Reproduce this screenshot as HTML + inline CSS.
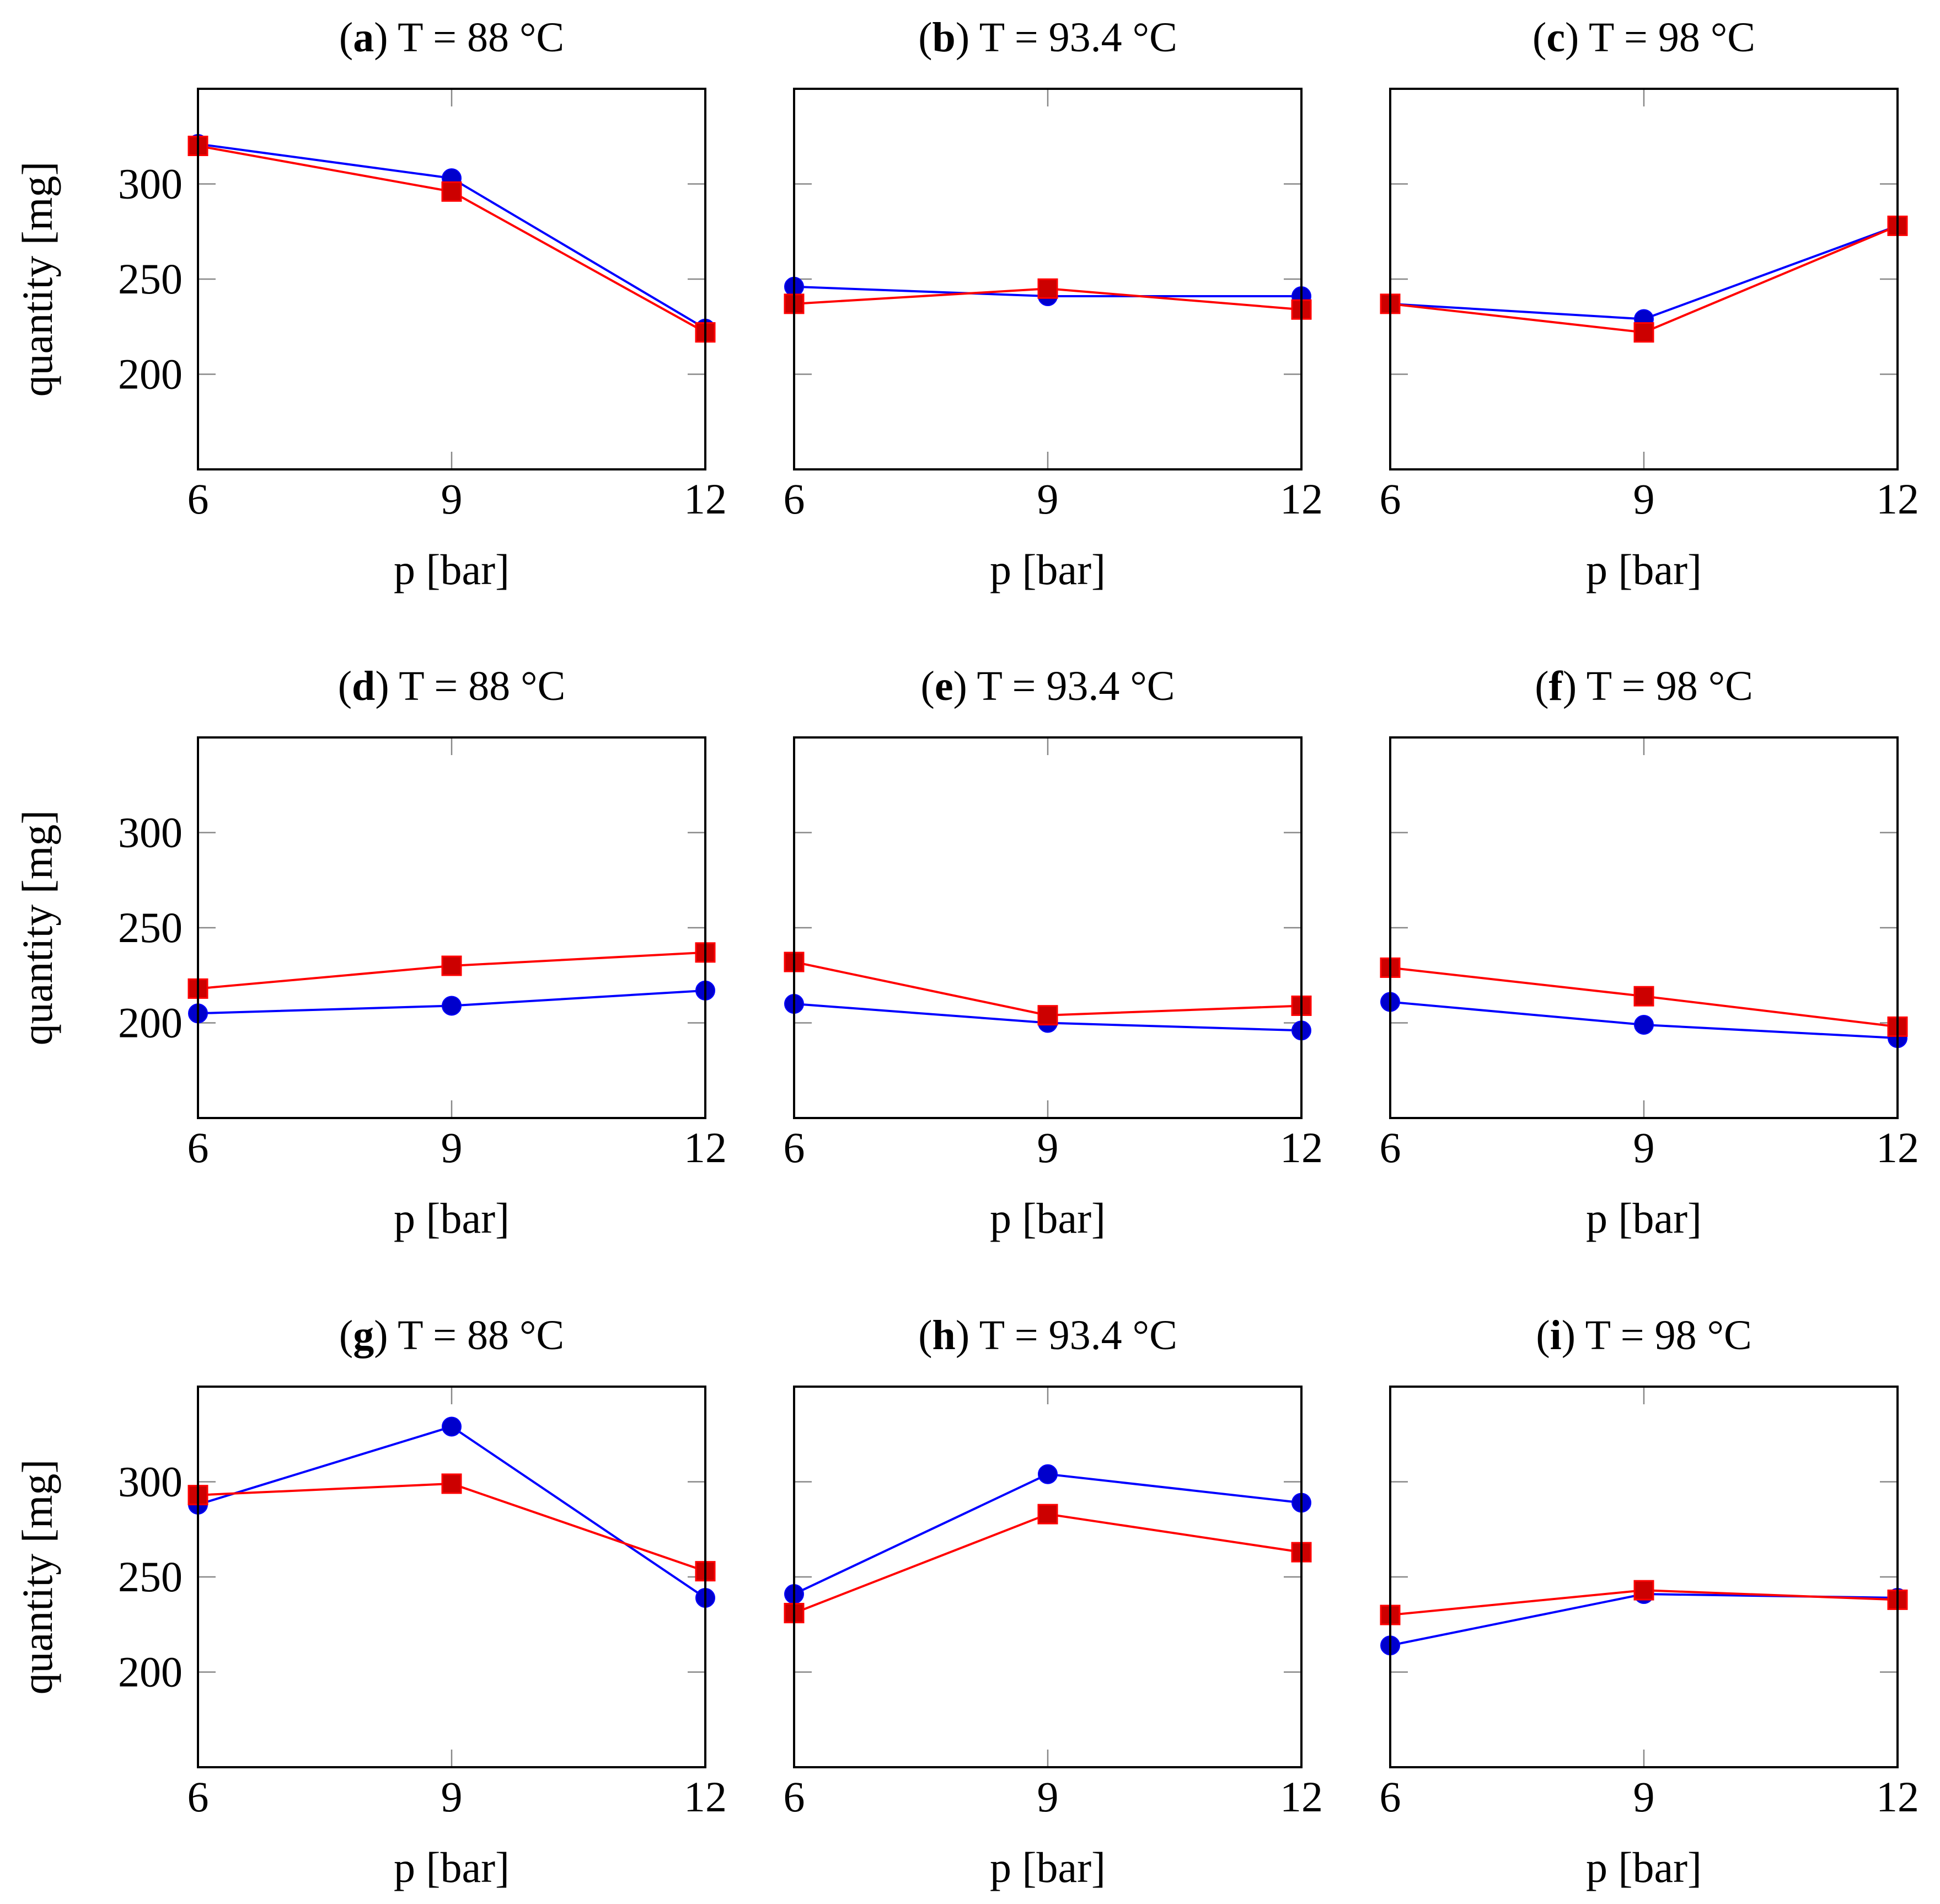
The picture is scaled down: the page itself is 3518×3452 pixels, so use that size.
<!DOCTYPE html>
<html><head><meta charset="utf-8"><style>
html,body{margin:0;padding:0;background:#fff;}
svg{display:block;}
text{font-family:"Liberation Serif",serif;fill:#000;}
</style></head><body>
<svg id="chart" width="3518" height="3452" viewBox="0 0 3518 3452" xmlns="http://www.w3.org/2000/svg"></svg>
<script>
const xCategories = [6, 9, 12];
const yTicks = [200, 250, 300];
const panelLetters = ['a','b','c','d','e','f','g','h','i'];
const panelTemps = ['88','93.4','98','88','93.4','98','88','93.4','98'];
const blueA = [321, 303, 224];
const redA  = [320, 296, 222];
const blueB = [246, 241, 241];
const redB  = [237, 245, 234];
const blueC = [237, 229, 278];
const redC  = [237, 222, 278];
const blueD = [205, 209, 217];
const redD  = [218, 230, 237];
const blueE = [210, 200, 196];
const redE  = [232, 204, 209];
const blueF = [211, 199, 192];
const redF  = [229, 214, 198];
const blueG = [288, 329, 239];
const redG  = [293, 299, 253];
const blueH = [241, 304, 289];
const redH  = [231, 283, 263];
const blueI = [214, 241, 239];
const redI  = [230, 243, 238];
const blueSeries = [blueA, blueB, blueC, blueD, blueE, blueF, blueG, blueH, blueI];
const redSeries  = [redA, redB, redC, redD, redE, redF, redG, redH, redI];

const NS = 'http://www.w3.org/2000/svg';
const svg = document.getElementById('chart');
const colX = [359, 1440, 2521], rowY = [161, 1337, 2514];
const W = 920, H = 690, yMin = 150, yMax = 350;
function mk(tag, attrs, parent){const e=document.createElementNS(NS,tag);for(const k in attrs)e.setAttribute(k,attrs[k]);(parent||svg).appendChild(e);return e;}

for(let p=0;p<9;p++){
  const r=Math.floor(p/3), c=p%3;
  const x0=colX[c], y0=rowY[r];
  const sx=v=>x0+(v-6)/6*W;
  const sy=v=>y0+H-(v-yMin)/(yMax-yMin)*H;
  const g=mk('g',{});
  
  
  const t=mk('text',{x:x0+W/2,y:y0-68,'text-anchor':'middle','font-size':76},g);
  
  
  const tb=mk('tspan',{},t);tb.textContent='(';
  const tb2=mk('tspan',{'font-weight':'bold'},t);tb2.textContent=panelLetters[p];
  const tb3=mk('tspan',{},t);tb3.textContent=') T = '+panelTemps[p]+' \u00B0C';
  yTicks.forEach(v=>{
    const l1=mk('line',{x1:x0,x2:x0+32,y1:sy(v),y2:sy(v),stroke:'#888','stroke-width':2.5},g);
    
    
    const l2=mk('line',{x1:x0+W-32,x2:x0+W,y1:sy(v),y2:sy(v),stroke:'#888','stroke-width':2.5},g);
    
    
    if(c===0){
      const tl=mk('text',{x:x0-28,y:sy(v)+26,'text-anchor':'end','font-size':78},g);
      
      
      tl.textContent=v;
    }
  });
  xCategories.forEach(v=>{
    const l1=mk('line',{x1:sx(v),x2:sx(v),y1:y0,y2:y0+32,stroke:'#888','stroke-width':2.5},g);
    
    
    const l2=mk('line',{x1:sx(v),x2:sx(v),y1:y0+H-32,y2:y0+H,stroke:'#888','stroke-width':2.5},g);
    
    
    const tl=mk('text',{x:sx(v),y:y0+H+80,'text-anchor':'middle','font-size':78},g);
    
    
    tl.textContent=v;
  });
  const xl=mk('text',{x:x0+W/2,y:y0+H+208,'text-anchor':'middle','font-size':78},g);
  
  
  xl.textContent='p [bar]';
  if(c===0){
    const yl=mk('text',{x:0,y:0,'text-anchor':'middle','font-size':78,transform:'translate(94,'+(y0+H/2)+') rotate(-90)'},g);
    
    
    yl.textContent='quantity [mg]';
  }
  const bp=blueSeries[p].map((v,i)=>sx(xCategories[i])+','+sy(v)).join(' ');
  const bl=mk('polyline',{points:bp,fill:'none',stroke:'#0000ff','stroke-width':4},g);
  
  
  blueSeries[p].forEach((v,i)=>{
    const m=mk('circle',{cx:sx(xCategories[i]),cy:sy(v),r:17,fill:'#0000cc',stroke:'#0000ff','stroke-width':2},g);
    
    
  });
  const rp=redSeries[p].map((v,i)=>sx(xCategories[i])+','+sy(v)).join(' ');
  const rl=mk('polyline',{points:rp,fill:'none',stroke:'#ff0000','stroke-width':4},g);
  
  
  redSeries[p].forEach((v,i)=>{
    const m=mk('rect',{x:sx(xCategories[i])-17,y:sy(v)-17,width:34,height:34,fill:'#cc0000',stroke:'#ff0000','stroke-width':3},g);
    
    
  });
  const fr=mk('rect',{x:x0,y:y0,width:W,height:H,fill:'none',stroke:'#000','stroke-width':4},g);
  
  
}
</script>
</body></html>
